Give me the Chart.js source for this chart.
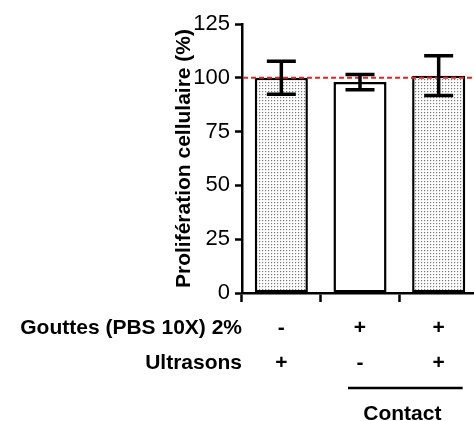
<!DOCTYPE html>
<html>
<head>
<meta charset="utf-8">
<script src="https://cdn.jsdelivr.net/npm/chart.js@4.4.1/dist/chart.umd.min.js"></script>
<style>
  html, body { margin: 0; padding: 0; background: #fff; overflow: hidden; }
  #wrap { position: absolute; left: 0; top: 0; width: 478px; height: 421px; }
</style>
</head>
<body>
<div id="wrap"><canvas id="chart"></canvas></div>
<script>
// --- données ---
const gouttes   = ['-', '+', '+'];
const ultrasons = ['+', '-', '+'];
const moyennes  = [100, 98, 101];
const erreurs   = [7.7, 3.5, 9.2];
const rowNames  = ['Gouttes (PBS 10X) 2%', 'Ultrasons'];
const groupLabel = 'Contact';
const refValue  = 100;

const FONT = "'Liberation Sans', Arial, sans-serif";

// motif pointillé gris des barres
function dotPattern() {
  const c = document.createElement('canvas');
  c.width = 3; c.height = 3;
  const g = c.getContext('2d');
  g.fillStyle = '#fff'; g.fillRect(0, 0, 3, 3);
  g.fillStyle = '#e2e2e2'; g.fillRect(2, 1, 1, 1); g.fillRect(1, 2, 1, 1);
  g.fillStyle = '#7a7a7a'; g.fillRect(1, 1, 1, 1);
  return g.createPattern(c, 'repeat');
}
const pat = dotPattern();

const refLine = {
  id: 'refLine',
  afterDatasetsDraw(chart) {
    const { ctx, chartArea, scales: { y } } = chart;
    const py = y.getPixelForValue(refValue);
    ctx.save();
    ctx.strokeStyle = '#ff1a1a';
    ctx.lineWidth = 2;
    ctx.setLineDash([5, 3]);
    ctx.beginPath();
    ctx.moveTo(chartArea.left + 1, py);
    ctx.lineTo(chartArea.right, py);
    ctx.stroke();
    ctx.restore();
  }
};

const errorBars = {
  id: 'errorBars',
  afterDatasetsDraw(chart) {
    const { ctx, scales: { y } } = chart;
    const meta = chart.getDatasetMeta(0);
    ctx.save();
    ctx.strokeStyle = '#000';
    ctx.lineWidth = 3.5;
    meta.data.forEach((bar, i) => {
      const top = y.getPixelForValue(moyennes[i] + erreurs[i]);
      const bot = y.getPixelForValue(moyennes[i] - erreurs[i]);
      ctx.beginPath();
      ctx.moveTo(bar.x, top); ctx.lineTo(bar.x, bot);
      ctx.moveTo(bar.x - 14.5, top); ctx.lineTo(bar.x + 14.5, top);
      ctx.moveTo(bar.x - 14.5, bot); ctx.lineTo(bar.x + 14.5, bot);
      ctx.stroke();
    });
    ctx.restore();
  }
};

const rowLabels = {
  id: 'rowLabels',
  afterDraw(chart) {
    const { ctx, chartArea, scales: { x } } = chart;
    ctx.save();
    ctx.fillStyle = '#000';
    ctx.font = 'bold 21px ' + FONT;
    ctx.textAlign = 'right';
    ctx.textBaseline = 'middle';
    rowNames.forEach((t, i) => ctx.fillText(t, chartArea.left, x.top + 35 + i * 35));
    const c1 = x.getPixelForValue(1), c2 = x.getPixelForValue(2);
    ctx.strokeStyle = '#000';
    ctx.lineWidth = 2.5;
    ctx.beginPath();
    ctx.moveTo(c1 - 12, x.top + 95);
    ctx.lineTo(c2 + 24, x.top + 95);
    ctx.stroke();
    ctx.textAlign = 'center';
    ctx.fillText(groupLabel, (c1 + c2) / 2 + 3, x.top + 121);
    ctx.restore();
  }
};

new Chart(document.getElementById('chart'), {
  type: 'bar',
  data: {
    labels: gouttes.map((g, i) => [g, ultrasons[i]]),
    datasets: [{
      data: moyennes,
      backgroundColor: [pat, '#ffffff', pat],
      borderColor: '#000',
      borderWidth: 2.5,
      borderSkipped: false,
      barPercentage: 0.675,
      categoryPercentage: 1
    }]
  },
  options: {
    responsive: true,
    maintainAspectRatio: false,
    animation: false,
    layout: { padding: { left: 171, top: 24, right: 0, bottom: 0 } },
    plugins: { legend: { display: false }, tooltip: { enabled: false } },
    scales: {
      x: {
        afterFit: s => { s.height = 128; },
        border: { color: '#000', width: 2.5 },
        grid: { drawOnChartArea: false, tickLength: 9, tickColor: '#000', tickWidth: 2.5 },
        ticks: { color: '#000', padding: 8.5, font: { family: FONT, size: 21, weight: 'bold', lineHeight: 1.667 } }
      },
      y: {
        min: 0, max: 125,
        afterFit: s => { s.width = 71; },
        border: { color: '#000', width: 2.5 },
        grid: { drawOnChartArea: false, tickLength: 7, tickColor: '#000', tickWidth: 2.5 },
        ticks: { stepSize: 25, color: '#000', padding: 5, font: { family: FONT, size: 22 } },
        title: {
          display: true,
          text: 'Prolifération cellulaire (%)',
          color: '#000',
          padding: { top: 1, bottom: 0 },
          font: { family: FONT, size: 21, weight: 'bold' }
        }
      }
    }
  },
  plugins: [refLine, errorBars, rowLabels]
});
</script>
</body>
</html>
